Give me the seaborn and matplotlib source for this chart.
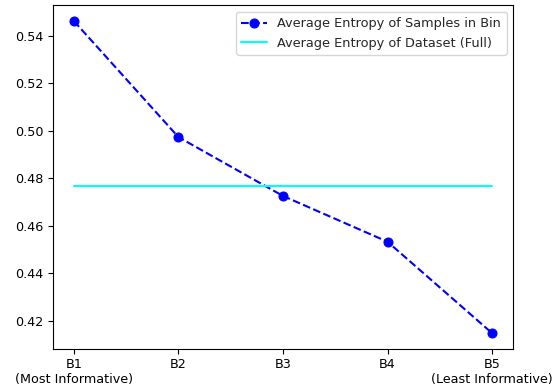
import matplotlib
matplotlib.use("Agg")
import matplotlib.pyplot as plt
import seaborn as sns
import pandas as pd

bins = ["B1\n(Most Informative)", "B2", "B3", "B4", "B5\n(Least Informative)"]
bin_entropy = [0.5462, 0.4973, 0.4725, 0.4532, 0.4147]
dataset_entropy = 0.4768

sns.set_style("ticks")
plt.rcParams['font.family'] = ['DejaVu Sans']

df = pd.DataFrame({"x": range(len(bins)), "entropy": bin_entropy,
                   "full": [dataset_entropy] * len(bins)})

fig, ax = plt.subplots(figsize=(5.6, 3.89), dpi=100)
sns.lineplot(data=df, x="x", y="entropy", ax=ax, color="blue", linestyle="--",
             marker="o", markersize=6.5, markeredgecolor="blue",
             label="Average Entropy of Samples in Bin")
sns.lineplot(data=df, x="x", y="full", ax=ax, color="cyan",
             label="Average Entropy of Dataset (Full)")

ax.set_xticks(range(len(bins)))
ax.set_xticklabels(bins)
ax.set_xlabel("")
ax.set_ylabel("")
ax.set_yticks([0.42, 0.44, 0.46, 0.48, 0.50, 0.52, 0.54])
ax.tick_params(labelsize=9.2, colors="black")
ax.legend(loc="upper right", fontsize=9.3)
for s in ax.spines.values():
    s.set_visible(True)
    s.set_color("black")

fig.subplots_adjust(left=0.0946, right=0.916, top=0.986, bottom=0.1036)
fig.savefig("out.png", dpi=100)
